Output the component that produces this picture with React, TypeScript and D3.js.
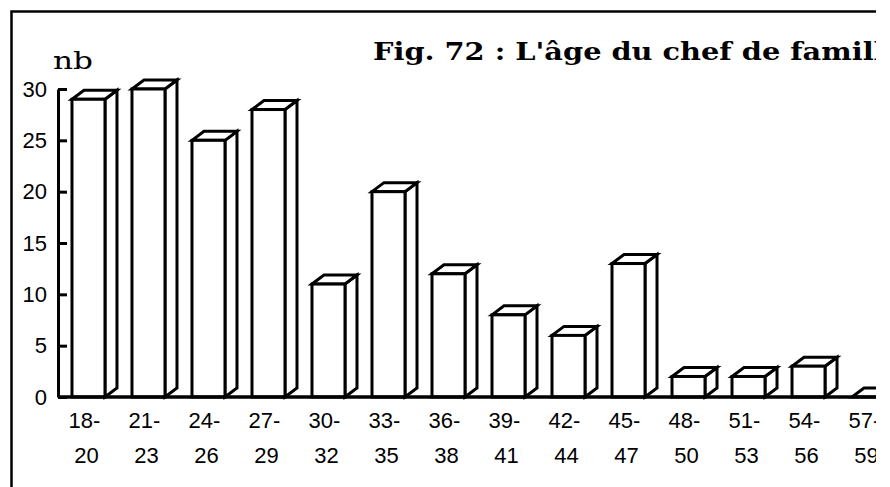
import { useEffect, useRef } from "react";
import * as d3 from "d3";

// Tranches d'âge (deux lignes par étiquette)
const ageStart = ["18-", "21-", "24-", "27-", "30-", "33-", "36-", "39-", "42-", "45-", "48-", "51-", "54-", "57-"];
const ageEnd = ["20", "23", "26", "29", "32", "35", "38", "41", "44", "47", "50", "53", "56", "59"];
// Nombre de chefs de famille
const counts = [29, 30, 25, 28, 11, 20, 12, 8, 6, 13, 2, 2, 3, 0];
const yTicks = [0, 5, 10, 15, 20, 25, 30];

const title = "Fig. 72 : L'âge du chef de famille";

const App = () => {
  const svgRef = useRef<SVGSVGElement | null>(null);

  useEffect(() => {
    const width = 890;
    const height = 487;
    const left = 58;
    const baseY = 397;
    const topY = 89;
    const depthX = 12;
    const depthY = -9;

    const svg = d3.select(svgRef.current);
    svg.selectAll("*").remove();
    svg.attr("width", width).attr("height", height);

    // l'image d'origine est coupée à droite
    svg
      .append("defs")
      .append("clipPath")
      .attr("id", "crop")
      .append("rect")
      .attr("x", 0)
      .attr("y", 0)
      .attr("width", 876)
      .attr("height", height);

    const g = svg.append("g").attr("clip-path", "url(#crop)");

    g.append("rect").attr("width", width).attr("height", height).attr("fill", "#fff");

    // Cadre
    g.append("path")
      .attr("d", `M11.5,${height}V11.5H876`)
      .attr("fill", "none")
      .attr("stroke", "#000")
      .attr("stroke-width", 2.5);

    const keys = ageStart.map((d, i) => d + ageEnd[i]);

    const x = d3
      .scaleBand<string>()
      .domain(keys)
      .range([left, left + 841])
      .paddingInner(0.45)
      .paddingOuter(0.233);

    const y = d3.scaleLinear().domain([0, 30]).range([baseY, topY]);

    // Barres en 3D
    const bars = g
      .selectAll(".bar")
      .data(counts)
      .enter()
      .append("g")
      .attr("class", "bar")
      .attr("fill", "#fff")
      .attr("stroke", "#000")
      .attr("stroke-width", 3)
      .attr("stroke-linejoin", "miter");

    const x0 = (i: number) => x(keys[i]) as number;
    const x1 = (i: number) => x0(i) + x.bandwidth();

    bars
      .append("path")
      .attr("d", (d, i) =>
        `M${x1(i)},${y(d)}L${x1(i) + depthX},${y(d) + depthY}L${x1(i) + depthX},${baseY + depthY}L${x1(i)},${baseY}Z`
      );

    bars
      .append("path")
      .attr("d", (d, i) =>
        `M${x0(i)},${y(d)}L${x0(i) + depthX},${y(d) + depthY}L${x1(i) + depthX},${y(d) + depthY}L${x1(i)},${y(d)}Z`
      );

    bars
      .append("rect")
      .attr("x", (d, i) => x0(i))
      .attr("y", (d) => y(d))
      .attr("width", x.bandwidth())
      .attr("height", (d) => baseY - y(d));

    // Ligne de base
    g.append("line")
      .attr("x1", left)
      .attr("x2", width)
      .attr("y1", baseY)
      .attr("y2", baseY)
      .attr("stroke", "#000")
      .attr("stroke-width", 3.5);

    // Axe Y
    const yAxis = g
      .append("g")
      .attr("transform", `translate(${left},0)`)
      .call(
        d3
          .axisLeft(y)
          .tickValues(yTicks)
          .tickSizeInner(-9)
          .tickSizeOuter(0)
          .tickPadding(11)
      );
    yAxis.selectAll("line, path").attr("stroke", "#000").attr("stroke-width", 3);
    yAxis
      .selectAll("text")
      .attr("fill", "#000")
      .attr("font-family", "'Liberation Sans', Arial, sans-serif")
      .attr("font-size", 22);
    yAxis.attr("font-size", null).attr("font-family", null);

    // Étiquettes de l'axe X
    const labels = g
      .selectAll(".xlabel")
      .data(keys)
      .enter()
      .append("text")
      .attr("class", "xlabel")
      .attr("text-anchor", "middle")
      .attr("font-family", "'Liberation Sans', Arial, sans-serif")
      .attr("font-size", 22)
      .attr("fill", "#000");

    labels
      .append("tspan")
      .attr("x", (d) => (x(d) as number) + x.bandwidth() / 2 - 4)
      .attr("y", 428)
      .text((d, i) => ageStart[i]);

    labels
      .append("tspan")
      .attr("x", (d) => (x(d) as number) + x.bandwidth() / 2 - 2)
      .attr("y", 463)
      .text((d, i) => ageEnd[i]);

    // Unité
    g.append("text")
      .attr("x", 53)
      .attr("y", 69)
      .attr("font-family", "'DejaVu Serif', serif")
      .attr("font-size", 25)
      .attr("textLength", 40)
      .attr("lengthAdjust", "spacingAndGlyphs")
      .attr("fill", "#000")
      .text("nb");

    // Titre (police large type Bookman, étirée horizontalement)
    g.append("text")
      .attr("transform", "translate(373,60) scale(1.2,1)")
      .attr("font-family", "'DejaVu Serif', serif")
      .attr("font-weight", "bold")
      .attr("font-size", 24)
      .attr("fill", "#000")
      .text(title);
  }, []);

  return (
    <div style={{ position: "absolute", left: 0, top: 0 }}>
      <svg ref={svgRef} style={{ display: "block" }}></svg>
    </div>
  );
};

export default App;
